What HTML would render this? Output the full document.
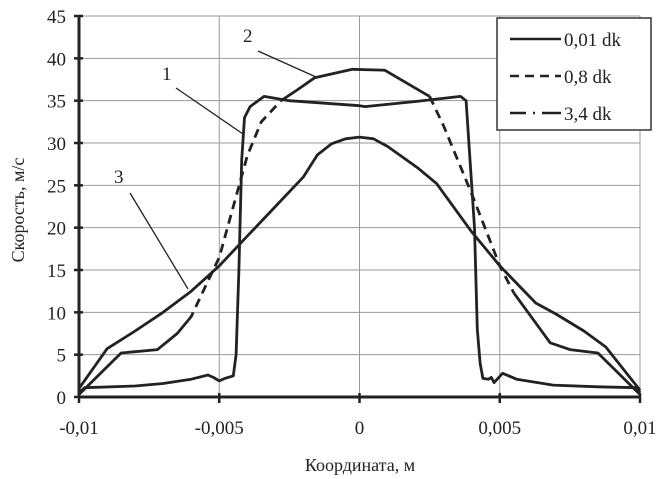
<!DOCTYPE html>
<html><head><meta charset="utf-8"><style>
body{margin:0;background:#fff;}
svg{display:block;font-family:"Liberation Serif","Noto Serif CJK SC",serif;}
</style></head><body>
<svg id="chart" width="663" height="479" viewBox="0 0 663 479">
<g id="grid"></g>
<g id="series"></g>
<g id="axes"></g>
<g font-size="19" fill="#222">
<text x="162" y="80">1</text>
<line x1="176" y1="88" x2="243" y2="134" stroke="#222" stroke-width="1.3"/>
<text x="243" y="42">2</text>
<line x1="258" y1="51" x2="316" y2="77" stroke="#222" stroke-width="1.3"/>
<text x="114" y="183">3</text>
<line x1="130" y1="193" x2="188" y2="289" stroke="#222" stroke-width="1.3"/>
</g>
<text x="0" y="0" transform="translate(24,210) rotate(-90)" text-anchor="middle" font-size="18" fill="#222">Скорость, м/с</text>
<text x="360" y="471" text-anchor="middle" font-size="18" fill="#222">Координата, м</text>
<g>
<rect x="497" y="18" width="154" height="112" fill="#fff" stroke="#333" stroke-width="1.5"/>
<line x1="510" y1="39" x2="561" y2="39" stroke="#222" stroke-width="2.5"/>
<text x="564" y="46" font-size="19" fill="#222">0,01 dk</text>
<line x1="510" y1="76" x2="561" y2="76" stroke="#222" stroke-width="2.5" stroke-dasharray="9,6"/>
<text x="564" y="83" font-size="19" fill="#222">0,8 dk</text>
<line x1="510" y1="113" x2="561" y2="113" stroke="#222" stroke-width="2.5" stroke-dasharray="16,7,2,7,8,0"/>
<text x="564" y="120" font-size="19" fill="#222">3,4 dk</text>
</g>
</svg>
<script>
const xTicks=[-0.01,-0.005,0,0.005,0.01];
const xTickLabels=["-0,01","-0,005","0","0,005","0,01"];
const yTicks=[0,5,10,15,20,25,30,35,40,45];
const s1x=[-0.01,-0.0098,-0.008,-0.007,-0.006,-0.0054,-0.0052,-0.005,-0.0048,-0.0045,-0.0044,-0.0043,-0.0042,-0.0041,-0.0039,-0.0034,-0.0025,0,0.0002,0.002,0.0036,0.0038,0.0041,0.0042,0.0043,0.0044,0.0046,0.0047,0.0048,0.0051,0.0056,0.0069,0.0085,0.0099,0.01];
const s1y=[0.5,1.1,1.3,1.6,2.1,2.6,2.3,1.9,2.2,2.5,5,15,28,33,34.3,35.5,35,34.4,34.3,34.9,35.5,35,20,8,4,2.2,2.1,2.3,1.7,2.8,2.1,1.4,1.2,1.1,0.5];
const s2x=[-0.01,-0.0085,-0.0072,-0.0065,-0.006,-0.0055,-0.005,-0.0045,-0.004,-0.0035,-0.0028,-0.00225,-0.0016,-0.00025,0.0009,0.0025,0.003,0.004,0.005,0.0055,0.0068,0.0075,0.0085,0.01];
const s2y=[0.3,5.2,5.6,7.5,9.5,13,16.5,22.5,28.5,32.5,35,36.2,37.7,38.7,38.6,35.5,32,24,15.5,12.3,6.4,5.6,5.2,0.3];
const s2dashFrom=-0.0061, s2dashTo=0.0055;
const s3x=[-0.01,-0.009,-0.008,-0.007,-0.006,-0.005,-0.004,-0.003,-0.002,-0.0015,-0.001,-0.0005,0,0.0005,0.001,0.0021,0.00275,0.004,0.005,0.00628,0.007,0.008,0.00878,0.01];
const s3y=[1,5.7,7.8,10,12.5,15.5,19,22.5,26,28.6,29.9,30.5,30.7,30.5,29.6,27,25.2,19.5,15.5,11.1,9.8,7.8,5.9,0.8];
const NS="http://www.w3.org/2000/svg";
const X0=79,X1=640,Y0=397,Y1=16;
function sx(v){return X0+(v-(-0.01))/0.02*(X1-X0);}
function sy(v){return Y0-v/45*(Y0-Y1);}
function mk(tag,attrs,parent){const e=document.createElementNS(NS,tag);for(const k in attrs)e.setAttribute(k,attrs[k]);parent.appendChild(e);return e;}
const grid=document.getElementById('grid'),axes=document.getElementById('axes'),ser=document.getElementById('series');
yTicks.forEach(t=>{if(t===0)return;const l=mk('line',{x1:X0,x2:X1,y1:sy(t),y2:sy(t),stroke:'#999','stroke-width':1},grid);

});
xTicks.forEach(t=>{if(t===-0.01)return;const l=mk('line',{x1:sx(t),x2:sx(t),y1:Y1,y2:Y0,stroke:'#999','stroke-width':1},grid);

});
const ya=mk('line',{x1:X0,x2:X0,y1:Y1,y2:Y0,stroke:'#222','stroke-width':3},axes);


const xa=mk('line',{x1:X0,x2:X1,y1:Y0,y2:Y0,stroke:'#222','stroke-width':3},axes);


yTicks.forEach(t=>{mk('line',{x1:X0-5,x2:X0+4,y1:sy(t),y2:sy(t),stroke:'#222','stroke-width':2.5},axes);
const tx=mk('text',{x:X0-13,y:sy(t)+7,'text-anchor':'end','font-size':19,fill:'#222'},axes);tx.textContent=t;

});
xTicks.forEach((t,i)=>{mk('line',{x1:sx(t),x2:sx(t),y1:Y0-4,y2:Y0+6,stroke:'#222','stroke-width':2.5},axes);
const tx=mk('text',{x:sx(t),y:Y0+37,'text-anchor':'middle','font-size':19,fill:'#222'},axes);tx.textContent=xTickLabels[i];

});
function pts(xs,ys){return xs.map((x,i)=>sx(x).toFixed(1)+','+sy(ys[i]).toFixed(1)).join(' ');}
const p3=mk('polyline',{points:pts(s3x,s3y),fill:'none',stroke:'#222','stroke-width':2.8,'stroke-linejoin':'round'},ser);


function seg(xs,ys,a,b){const ox=[],oy=[];for(let i=0;i<xs.length;i++){if(xs[i]>a&&xs[i]<b){ox.push(xs[i]);oy.push(ys[i]);}}return [ox,oy];}
function interp(xs,ys,x){for(let i=0;i<xs.length-1;i++){if(x>=xs[i]&&x<=xs[i+1]){return ys[i]+(ys[i+1]-ys[i])*(x-xs[i])/(xs[i+1]-xs[i]);}}return 0;}
function piece(a,b,dash,name){let [ox,oy]=seg(s2x,s2y,a,b);ox=[a,...ox,b];oy=[interp(s2x,s2y,a),...oy,interp(s2x,s2y,b)];
const p=mk('polyline',{points:pts(ox,oy),fill:'none',stroke:'#222','stroke-width':2.8,'stroke-linejoin':'round'},ser);
if(dash)p.setAttribute('stroke-dasharray','9,6');

}
piece(-0.01,s2dashFrom,false,'series-0-8-dk-left-tail');
piece(s2dashFrom,-0.0028,true,'series-0-8-dk-left-dashed');
piece(-0.0028,0.0025,false,'series-0-8-dk-top');
piece(0.0025,s2dashTo,true,'series-0-8-dk-right-dashed');
piece(s2dashTo,0.01,false,'series-0-8-dk-right-tail');
const p1=mk('polyline',{points:pts(s1x,s1y),fill:'none',stroke:'#222','stroke-width':2.8,'stroke-linejoin':'round'},ser);


</script>
</body></html>
